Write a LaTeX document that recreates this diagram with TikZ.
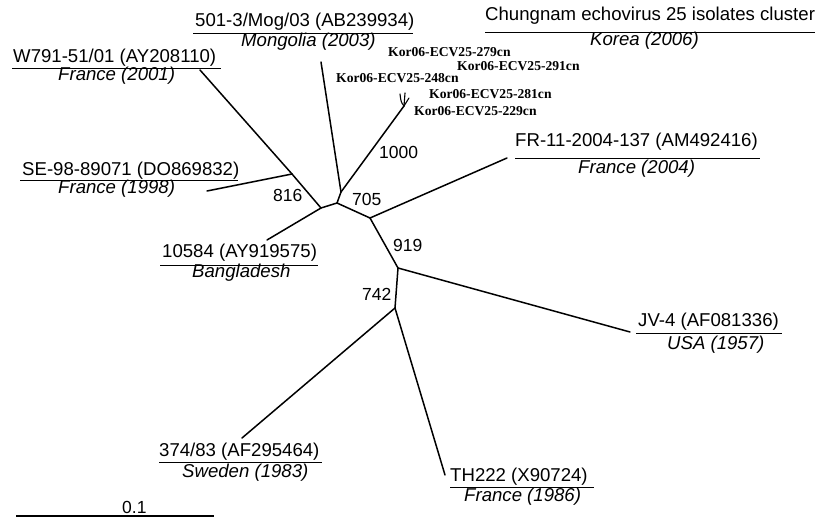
\documentclass[tikz,border=0pt]{standalone}
\usepackage{fontspec}
\setmainfont{Liberation Sans}
\newfontfamily\korfont{Liberation Serif}
\begin{document}
\begin{tikzpicture}[x=1pt,y=-1pt,
  branch/.style={line width=1.5pt, line cap=round},
  twig/.style={line width=1.1pt, line cap=round},
  uline/.style={line width=0.9pt},
  lab/.style={anchor=base west, inner sep=0pt, font=\fontsize{18.6}{20}\selectfont},
  ital/.style={anchor=base west, inner sep=0pt, font=\fontsize{18.6}{20}\selectfont\itshape},
  boot/.style={anchor=base west, inner sep=0pt, font=\fontsize{17.5}{20}\selectfont},
  kor/.style={anchor=base west, inner sep=0pt, font=\fontsize{13.6}{15}\selectfont\korfont\bfseries}]
\useasboundingbox (0,0) rectangle (818,518);

% tree nodes
\coordinate (L1) at (200,70);
\coordinate (L2) at (207,191);
\coordinate (N816) at (292,174);
\coordinate (N1) at (321,208);
\coordinate (L3) at (267,240);
\coordinate (N2) at (337,203);
\coordinate (N3) at (341,192);
\coordinate (L4) at (321,62);
\coordinate (K) at (404,106);
\coordinate (K1) at (400,94);
\coordinate (K2) at (405,93);
\coordinate (K3) at (409,98);
\coordinate (N4) at (370,218);
\coordinate (L5) at (507,158);
\coordinate (N5) at (398,268);
\coordinate (L6) at (630,332);
\coordinate (N6) at (395,308);
\coordinate (L7) at (242,438);
\coordinate (L8) at (445,475);

% branches
\draw[branch] (L1) -- (N816);
\draw[branch] (L2) -- (N816);
\draw[branch] (N816) -- (N1);
\draw[branch] (L3) -- (N1);
\draw[branch] (N1) -- (N2);
\draw[branch] (N2) -- (N3);
\draw[branch] (N3) -- (L4);
\draw[branch] (N3) -- (K);
\draw[twig] (K) .. controls (401,102) .. (K1);
\draw[twig] (K) -- (K2);
\draw[twig] (K) -- (K3);
\draw[branch] (N2) -- (N4);
\draw[branch] (N4) -- (L5);
\draw[branch] (N4) -- (N5);
\draw[branch] (N5) -- (L6);
\draw[branch] (N5) -- (N6);
\draw[branch] (N6) -- (L7);
\draw[branch] (N6) -- (L8);

% bootstrap values
\node[boot] (b816) at (273,202) {816};
\node[boot] (b705) at (352,206) {705};
\node[boot] (b1000) at (379,159) {1000};
\node[boot] (b919) at (393,252) {919};
\node[boot] (b742) at (362,301) {742};

% Korean isolates
\node[kor] (k279) at (388,57) {Kor06-ECV25-279cn};
\node[kor] (k291) at (457,71) {Kor06-ECV25-291cn};
\node[kor] (k248) at (336,83) {Kor06-ECV25-248cn};
\node[kor] (k281) at (429,99) {Kor06-ECV25-281cn};
\node[kor] (k229) at (414,116) {Kor06-ECV25-229cn};

% labels
\node[lab] (t1) at (485,21) {Chungnam echovirus 25 isolates cluster};
\draw[uline] (485,32) -- (815,32);
\node[ital] (s1) at (590,46) {Korea (2006)};

\node[lab] (t2) at (195,27) {501-3/Mog/03 (AB239934)};
\draw[uline] (193,33) -- (413,33);
\node[ital] (s2) at (241,47) {Mongolia (2003)};

\node[lab] (t3) at (13,63) {W791-51/01 (AY208110)};
\draw[uline] (12,68) -- (221,68);
\node[ital] (s3) at (58,81) {France (2001)};

\node[lab] (t4) at (22,176) {SE-98-89071 (DO869832)};
\draw[uline] (20,180) -- (238,180);
\node[ital] (s4) at (58,194) {France (1998)};

\node[lab] (t5) at (515,147) {FR-11-2004-137 (AM492416)};
\draw[uline] (515,158) -- (760,158);
\node[ital] (s5) at (578,174) {France (2004)};

\node[lab] (t6) at (162,258) {10584 (AY919575)};
\draw[uline] (160,265) -- (318,265);
\node[ital] (s6) at (192,278) {Bangladesh};

\node[lab] (t7) at (638,326) {JV-4 (AF081336)};
\draw[uline] (636,333) -- (782,333);
\node[ital] (s7) at (667,349) {USA (1957)};

\node[lab] (t8) at (159,456) {374/83 (AF295464)};
\draw[uline] (159,462) -- (322,462);
\node[ital] (s8) at (182,477) {Sweden (1983)};

\node[lab] (t9) at (450,481) {TH222 (X90724)};
\draw[uline] (450,487) -- (594,487);
\node[ital] (s9) at (464,501) {France (1986)};

% scale bar
\node[boot] (sc) at (122,513) {0.1};
\draw[line width=1.5pt] (16,516) -- (214,516);
\end{tikzpicture}
\end{document}
